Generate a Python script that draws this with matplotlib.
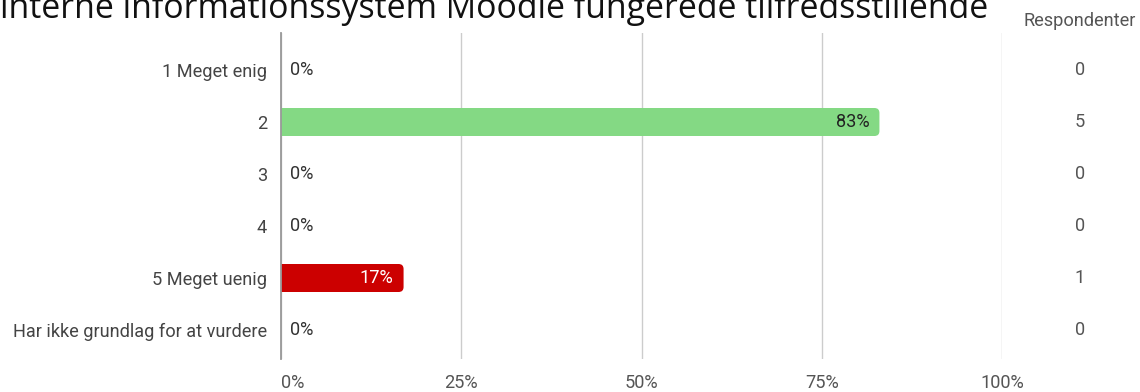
import matplotlib.pyplot as plt
from matplotlib.patches import FancyBboxPatch
from matplotlib.transforms import blended_transform_factory

plt.rcParams['font.family'] = ['Roboto', 'DejaVu Sans']

categories = ['1 Meget enig', '2', '3', '4', '5 Meget uenig', 'Har ikke grundlag for at vurdere']
percent = [0, 83, 0, 0, 17, 0]
respondents = [0, 5, 0, 0, 1, 0]
bar_colors = ['#84d984', '#84d984', '#84d984', '#84d984', '#cc0000', '#84d984']
label_colors = ['#333333', '#222222', '#333333', '#333333', '#ffffff', '#333333']
xticks = [0, 25, 50, 75, 100]
title = 'interne informationssystem Moodle fungerede tilfredsstillende'

W, H = 1140, 392
fs = 13.1
fig = plt.figure(figsize=(W / 100, H / 100), dpi=100)
ax = fig.add_axes([281 / W, (H - 359) / H, 721 / W, (359 - 33) / H])

ax.set_xlim(0, 100)
ax.set_ylim(5 + 29 / 52, -37 / 52)

# rounded bars, square at the axis side (left end is clipped away)
px_x = 721 / 100
px_y = 52
bar_h = 28 / 52
for i, v in enumerate(percent):
    if v <= 0:
        continue
    box = FancyBboxPatch((-3, i - bar_h / 2), v + 3, bar_h,
                         boxstyle='round,pad=0,rounding_size=%.3f' % (5 / px_x),
                         mutation_aspect=px_x / px_y,
                         fc=bar_colors[i], ec='none', zorder=3)
    ax.add_patch(box)

for i, v in enumerate(percent):
    if v > 0:
        ax.text(v - 1.4, i, '%d%%' % v, ha='right', va='center', fontsize=fs,
                color=label_colors[i], zorder=4)
    else:
        ax.text(1.2, i, '%d%%' % v, ha='left', va='center', fontsize=fs,
                color='#333333', zorder=4)

ax.set_yticks(range(len(categories)))
ax.set_yticklabels(categories, fontsize=fs, color='#444444')
ax.tick_params(axis='y', length=0, pad=10)

ax.set_xticks(xticks)
ax.set_xticklabels(['%d%%' % t for t in xticks], fontsize=fs, color='#555555')
ax.get_xticklabels()[0].set_horizontalalignment('left')
ax.tick_params(axis='x', length=0, pad=11)
ax.grid(axis='x', color='#cccccc', linewidth=1, zorder=0)

for s in ['top', 'right', 'bottom']:
    ax.spines[s].set_visible(False)
ax.spines['left'].set_color('#999999')
ax.spines['left'].set_linewidth(1.3)
ax.spines['left'].set_zorder(5)

# respondent counts to the right of the plot
count_tr = blended_transform_factory(fig.transFigure, ax.transData)
for i, n in enumerate(respondents):
    ax.text(1080 / W, i, str(n), transform=count_tr,
            ha='center', va='center', fontsize=fs, color='#555555')
fig.text(1080 / W, (H - 21) / H, 'Respondenter', ha='center', va='center',
         fontsize=fs, color='#555555')

# title sits partly above the canvas
fig.text(0, (H - 18) / H, title, ha='left', va='baseline',
         fontsize=24.4, color='#111111', family=['Open Sans', 'DejaVu Sans'])

fig.savefig('out.png', dpi=100, facecolor='white')
